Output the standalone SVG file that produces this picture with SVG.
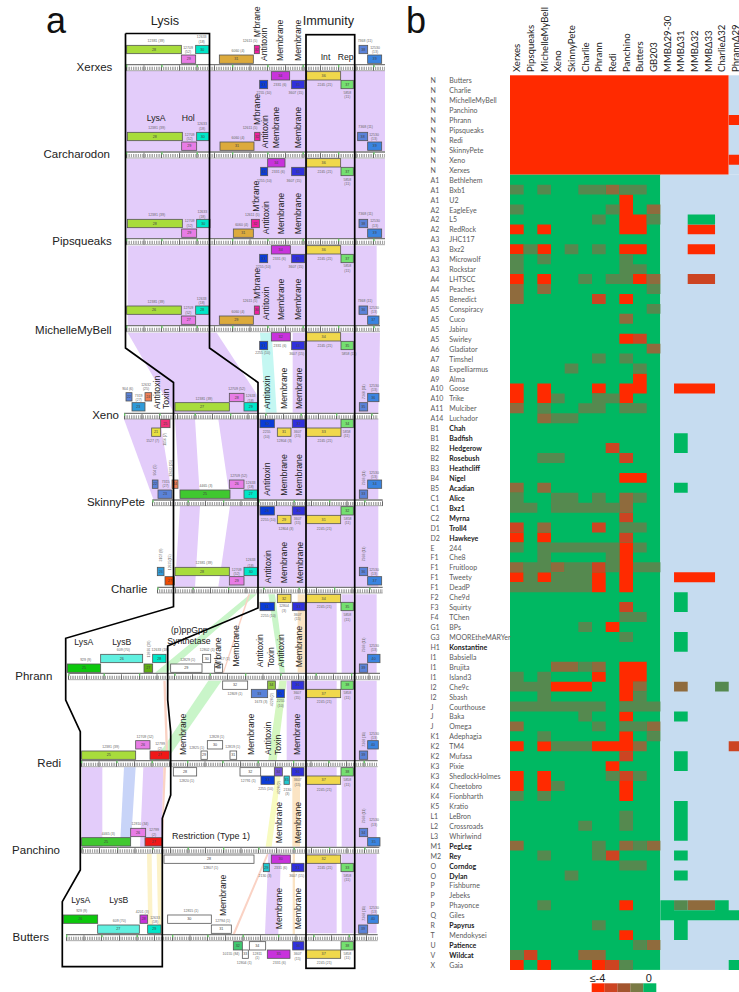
<svg xmlns="http://www.w3.org/2000/svg" width="739" height="992" viewBox="0 0 739 992">
<style>
text{font-family:"Liberation Sans",Arial,sans-serif}
.big{font-size:36px;fill:#111}
.h{font-size:38px;fill:#222}
.f{font-size:26px;fill:#222}
.g{font-size:34.5px;fill:#222;text-anchor:end}
.n{font-size:11px;fill:#444;text-anchor:middle}
.s{font-size:10.5px;fill:#666;text-anchor:middle}
.gene rect{stroke:#555;stroke-width:2.4}
.lime{fill:#a8dc3c}.pink{fill:#e87ce6}.cyan{fill:#00e6c8}.gold{fill:#dcaa3c}.hot{fill:#f01e9e}.bl1{fill:#5a82d8}.bl2{fill:#3a84e0}.pur{fill:#c832dc}.yel{fill:#f0d84c}.blu{fill:#0a3cd8}.ind{fill:#3030dc}.grn{fill:#74e070}.wht{fill:#fff}.gr2{fill:#40c830}.gr3{fill:#0cc80c}.red{fill:#f01818}.sal{fill:#f08058}.sky{fill:#2f9ad8}.aqu{fill:#60f0e0}.org{fill:#f04a00}.dgr{fill:#60b010}.olv{fill:#90c840}.vio{fill:#7050d8}.tea{fill:#20c8d0}.sea{fill:#40c870}.rsd{fill:#f0307a}.lem{fill:#e8e040}
.lav{fill:#e3ccfa}.aq{fill:#c4f7f2}.lg{fill:#c9f5c9}.lg2{fill:#d4f6c0}.pe{fill:#fbe4c4}.tp{fill:#fad2c4}.lb{fill:#c8d4f8}.ly{fill:#f8fbc0}.ly2{fill:#fcf2c8}
.r0,.r1,.r2,.r3,.r4{fill:none}
.r0{stroke:#777;stroke-width:4}
.r1{stroke:#555;stroke-width:10;stroke-dasharray:1.6 3.7}
.r2{stroke:#444;stroke-width:16;stroke-dasharray:2 51}
.r3{stroke:#66cc66;stroke-width:7;stroke-dasharray:4 102}
.r4{stroke:#555;stroke-width:1.5}
.frame{fill:none;stroke:#000;stroke-width:1.7}
.hd{font-family:Lato,"Noto Sans",sans-serif;font-size:9.6px;fill:#222}
.c{font-family:Lato,"Noto Sans",sans-serif;font-size:7px;fill:#5a5a5a}
.b{font-weight:700;fill:#222}
.R{fill:#ff2a00}.Q{fill:#cc4422}.B{fill:#8f6b3d}.G{fill:#55894f}.E{fill:#00b862}.L{fill:#c6dcf0}
</style>
<defs>
<g id="immA"><polygon class="lav" points="920,0 1010,0 1010,238 920,238"/><polygon class="lav" points="1025,0 1060,0 1060,238 1025,238"/><polygon class="lav" points="1065,0 1130,0 1130,238 1065,238"/></g>
</defs>
<g id="connectors" transform="scale(0.33333)">
<polygon class="lav" points="378,213 1155,213 1155,454 378,454"/>
<polygon class="lav" points="380,476 1155,476 1155,714 380,714"/>
<polygon class="lav" points="383,737 1130,737 1130,975 383,975"/>
<g transform="translate(0,990)">
<polygon class="lav" points="383,8 650,8 775,200 775,248 522,248"/>
<polygon class="aq" points="780,8 815,8 830,248 797,248"/>
<polygon class="lav" points="878,8 915,8 915,248 878,248"/>
<polygon class="lav" points="920,8 1140,8 1135,248 920,248"/>
<polygon class="lav" points="372,268 480,268 518,508 460,508"/>
<polygon class="lav" points="525,268 585,268 600,508 540,508"/>
<polygon class="lav" points="655,268 1135,268 1135,508 690,508"/>
<polygon class="lav" points="540,528 600,528 585,770 525,770"/>
<polygon class="lav" points="690,528 1135,528 1135,770 655,770"/>
<polygon class="lg" points="750,793 770,793 500,1028 465,1028"/>
<polygon class="tp" points="745,793 750,793 672,1028 668,1028"/>
<polygon class="lg" points="805,793 825,793 855,1028 840,1028"/>
<polygon class="pe" points="893,793 915,793 915,1028 893,1028"/>
<use href="#immA" y="793"/>
</g>
<g transform="translate(0,1950)">
<polygon class="lg" points="625,92 665,92 500,330 465,330"/>
<polygon class="tp" points="490,92 497,92 505,330 498,330"/>
<polygon class="lg2" points="838,92 860,92 830,330 805,330"/>
<polygon class="lav" points="860,92 915,92 915,330 860,330"/>
<use href="#immA" y="92"/>
<polygon class="lav" points="245,352 307,352 307,590 245,590"/>
<polygon class="lb" points="372,352 407,352 392,590 360,590"/>
<polygon class="lav" points="430,352 490,352 485,590 420,590"/>
<polygon class="tp" points="490,352 498,352 488,590 485,590"/>
<polygon class="ly" points="830,352 845,352 815,590 797,590"/>
<polygon class="pe" points="877,352 900,352 900,590 877,590"/>
<use href="#immA" y="352"/>
<polygon class="ly2" points="441,612 455,612 458,852 445,852"/>
<polygon class="ly2" points="470,612 485,612 485,852 475,852"/>
<polygon class="tp" points="800,612 806,612 705,852 698,852"/>
<polygon class="pe" points="878,612 885,612 885,852 878,852"/>
<polygon class="lav" points="805,612 843,612 835,852 795,852"/>
<use href="#immA" y="612"/>
</g>
</g>
<g id="panel-a" transform="scale(0.33333)">
<g id="xerxes" class="gene">
<path class="r0" d="M378 194H1155"/><path class="r1" d="M378 205H1155"/><path class="r2" d="M378 204H1155"/><path class="r3" d="M378 198H1155"/><path class="r4" d="M378 212H1155"/>
<text class="g" x="337" y="213">Xerxes</text>
<rect class="lime" x="380" y="136" width="164" height="25"/><text class="n" x="462" y="152">28</text><text class="s" x="468" y="126">12381 (39)</text>
<rect class="pink" x="544" y="165" width="43" height="25"/><text class="n" x="566" y="181">29</text><text class="s" x="564" y="146">12709</text><text class="s" x="564" y="159">(52)</text>
<rect class="cyan" x="587" y="136" width="40" height="25"/><text class="n" x="607" y="152">30</text><text class="s" x="605" y="115">12633</text><text class="s" x="605" y="129">(18)</text>
<rect class="gold" x="658" y="165" width="102" height="25"/><text class="n" x="709" y="181">31</text><text class="s" x="714" y="155">6060 (4)</text>
<rect class="hot" x="763" y="136" width="15" height="25"/><text class="n" x="770" y="152">32</text><text class="s" x="750" y="126">12611 (5)</text>
<rect class="bl1" x="1077" y="136" width="26" height="25"/><text class="n" x="1090" y="152">38</text><text class="s" x="1095" y="126">7368 (11)</text>
<rect class="bl2" x="1103" y="165" width="42" height="25"/><text class="n" x="1124" y="181">39</text><text class="s" x="1125" y="146">12530</text><text class="s" x="1125" y="160">(13)</text>
<rect class="pur" x="814" y="215" width="55" height="25"/><text class="n" x="841" y="231">34</text>
<rect class="yel" x="920" y="215" width="102" height="25"/><text class="n" x="971" y="231">36</text>
<rect class="blu" x="779" y="241" width="24" height="25"/><text class="n" x="791" y="257">33</text><text class="s" x="792" y="281">2255 (10)</text>
<rect class="ind" x="875" y="241" width="39" height="25"/><text class="n" x="894" y="257">35</text><text class="s" x="888" y="282">3607 (15)</text>
<rect class="grn" x="1023" y="241" width="37" height="25"/><text class="n" x="1042" y="257">37</text><text class="s" x="1042" y="281">5858</text><text class="s" x="1042" y="295">(11)</text>
<text class="s" x="840" y="258">2331 (6)</text><text class="s" x="975" y="258">2245 (21)</text>
<text class="f" transform="translate(779,112) rotate(-90)">M'brane</text><text class="f" transform="translate(802,183) rotate(-90)">Antitoxin</text><text class="f" transform="translate(849,183) rotate(-90)">Membrane</text><text class="f" transform="translate(902,183) rotate(-90)">Membrane</text>
<text class="f" x="962" y="180">Int</text><text class="f" x="1013" y="180">Rep</text>
</g>
<g id="carcharodon" class="gene">
<path class="r0" d="M378 456H1155"/><path class="r1" d="M378 467H1155"/><path class="r2" d="M378 466H1155"/><path class="r3" d="M378 460H1155"/><path class="r4" d="M378 474H1155"/>
<text class="g" x="330" y="475">Carcharodon</text>
<rect class="lime" x="382" y="397" width="165" height="25"/><text class="n" x="464" y="413">28</text><text class="s" x="470" y="388">12381 (39)</text>
<rect class="pink" x="545" y="426" width="45" height="25"/><text class="n" x="568" y="442">29</text><text class="s" x="569" y="407">12709</text><text class="s" x="569" y="420">(52)</text>
<rect class="cyan" x="590" y="397" width="37" height="25"/><text class="n" x="608" y="413">30</text><text class="s" x="606" y="376">12633</text><text class="s" x="606" y="391">(18)</text>
<rect class="gold" x="660" y="426" width="102" height="25"/><text class="n" x="711" y="442">31</text><text class="s" x="714" y="416">6060 (4)</text>
<rect class="hot" x="764" y="397" width="16" height="25"/><text class="n" x="772" y="413">32</text><text class="s" x="750" y="388">12611 (5)</text>
<rect class="bl1" x="1073" y="397" width="30" height="25"/><text class="n" x="1088" y="413">38</text><text class="s" x="1097" y="384">7368 (11)</text>
<rect class="bl2" x="1103" y="426" width="42" height="25"/><text class="n" x="1124" y="442">39</text><text class="s" x="1122" y="407">12530</text><text class="s" x="1122" y="420">(13)</text>
<rect class="pur" x="803" y="476" width="52" height="25"/><text class="n" x="829" y="492">34</text>
<rect class="yel" x="920" y="476" width="102" height="25"/><text class="n" x="971" y="492">36</text>
<rect class="blu" x="782" y="502" width="21" height="25"/><text class="n" x="792" y="518">33</text><text class="s" x="793" y="545">2255 (10)</text>
<rect class="ind" x="875" y="502" width="39" height="25"/><text class="n" x="894" y="518">35</text><text class="s" x="882" y="545">3607 (15)</text>
<rect class="grn" x="1023" y="502" width="37" height="25"/><text class="n" x="1042" y="518">37</text><text class="s" x="1042" y="542">5858</text><text class="s" x="1042" y="555">(11)</text>
<text class="s" x="835" y="519">2331 (6)</text><text class="s" x="975" y="519">2245 (21)</text>
<text class="f" x="440" y="363">LysA</text><text class="f" x="545" y="363">Hol</text>
<text class="f" transform="translate(781,375) rotate(-90)">M'brane</text><text class="f" transform="translate(804,445) rotate(-90)">Antitoxin</text><text class="f" transform="translate(836,445) rotate(-90)">Membrane</text><text class="f" transform="translate(902,445) rotate(-90)">Membrane</text>
</g>
<g id="pipsqueaks" class="gene">
<path class="r0" d="M378 716H1155"/><path class="r1" d="M378 727H1155"/><path class="r2" d="M378 726H1155"/><path class="r3" d="M378 720H1155"/><path class="r4" d="M378 734H1155"/>
<text class="g" x="335" y="736">Pipsqueaks</text>
<rect class="lime" x="382" y="658" width="165" height="25"/><text class="n" x="464" y="674">28</text><text class="s" x="470" y="648">12381 (39)</text>
<rect class="pink" x="545" y="687" width="45" height="25"/><text class="n" x="568" y="703">29</text><text class="s" x="569" y="667">12709</text><text class="s" x="569" y="680">(52)</text>
<rect class="cyan" x="590" y="658" width="40" height="25"/><text class="n" x="610" y="674">30</text><text class="s" x="607" y="640">12633</text><text class="s" x="607" y="654">(18)</text>
<rect class="gold" x="700" y="687" width="60" height="25"/><text class="n" x="730" y="703">31</text><text class="s" x="725" y="677">6060 (4)</text>
<rect class="hot" x="754" y="658" width="24" height="25"/><text class="n" x="766" y="674">32</text><text class="s" x="757" y="649">12611 (5)</text>
<rect class="bl1" x="1077" y="658" width="26" height="25"/><text class="n" x="1090" y="674">38</text><text class="s" x="1097" y="644">7368 (11)</text>
<rect class="bl2" x="1103" y="687" width="42" height="25"/><text class="n" x="1124" y="703">39</text><text class="s" x="1125" y="667">12530</text><text class="s" x="1125" y="681">(13)</text>
<rect class="pur" x="814" y="737" width="57" height="25"/><text class="n" x="842" y="753">34</text>
<rect class="yel" x="920" y="737" width="102" height="25"/><text class="n" x="971" y="753">36</text>
<rect class="blu" x="779" y="763" width="24" height="25"/><text class="n" x="791" y="779">33</text><text class="s" x="790" y="804">2255 (10)</text>
<rect class="ind" x="875" y="763" width="39" height="25"/><text class="n" x="894" y="779">35</text><text class="s" x="888" y="804">3607 (15)</text>
<rect class="grn" x="1023" y="763" width="37" height="25"/><text class="n" x="1042" y="779">37</text><text class="s" x="1042" y="802">5858</text><text class="s" x="1042" y="815">(11)</text>
<text class="s" x="838" y="779">2331 (6)</text><text class="s" x="975" y="779">2245 (21)</text>
<text class="f" transform="translate(777,635) rotate(-90)">M'brane</text><text class="f" transform="translate(806,703) rotate(-90)">Antitoxin</text><text class="f" transform="translate(852,703) rotate(-90)">Membrane</text><text class="f" transform="translate(902,703) rotate(-90)">Membrane</text>
</g>
<g id="michellemybell" class="gene">
<path class="r0" d="M378 977H1140"/><path class="r1" d="M378 988H1140"/><path class="r2" d="M378 987H1140"/><path class="r3" d="M378 981H1140"/><path class="r4" d="M378 995H1140"/>
<text class="g" x="335" y="1001">MichelleMyBell</text>
<rect class="lime" x="380" y="918" width="164" height="25"/><text class="n" x="462" y="934">26</text><text class="s" x="468" y="909">12381 (39)</text>
<rect class="pink" x="544" y="948" width="43" height="25"/><text class="n" x="566" y="964">27</text><text class="s" x="565" y="928">12709</text><text class="s" x="565" y="942">(52)</text>
<rect class="cyan" x="587" y="918" width="40" height="25"/><text class="n" x="607" y="934">28</text><text class="s" x="605" y="899">12633</text><text class="s" x="605" y="913">(18)</text>
<rect class="gold" x="658" y="948" width="102" height="25"/><text class="n" x="709" y="964">29</text><text class="s" x="714" y="938">6060 (4)</text>
<rect class="hot" x="763" y="918" width="15" height="25"/><text class="n" x="770" y="934">30</text><text class="s" x="750" y="907">12611 (5)</text>
<rect class="bl1" x="1077" y="918" width="26" height="25"/><text class="n" x="1090" y="934">36</text><text class="s" x="1095" y="907">7368 (11)</text>
<rect class="bl2" x="1103" y="948" width="34" height="25"/><text class="n" x="1120" y="964">37</text><text class="s" x="1122" y="926">12530</text><text class="s" x="1122" y="940">(13)</text>
<rect class="pur" x="814" y="998" width="57" height="25"/><text class="n" x="842" y="1014">32</text>
<rect class="yel" x="920" y="998" width="102" height="25"/><text class="n" x="971" y="1014">34</text>
<rect class="blu" x="779" y="1024" width="24" height="25"/><text class="n" x="791" y="1040">31</text><text class="s" x="788" y="1063">2255 (10)</text>
<rect class="ind" x="875" y="1024" width="39" height="25"/><text class="n" x="894" y="1040">33</text><text class="s" x="890" y="1066">3607 (15)</text>
<rect class="grn" x="1023" y="1024" width="37" height="25"/><text class="n" x="1042" y="1040">35</text><text class="s" x="1047" y="1066">5858 (11)</text>
<text class="s" x="840" y="1040">2331 (6)</text><text class="s" x="975" y="1040">2245 (21)</text>
<text class="f" transform="translate(779,897) rotate(-90)">M'brane</text><text class="f" transform="translate(807,960) rotate(-90)">Antitoxin</text><text class="f" transform="translate(851,960) rotate(-90)">Membrane</text><text class="f" transform="translate(902,960) rotate(-90)">Membrane</text>
</g>
<g transform="translate(0,990)">
<g id="xeno" class="gene">
<path class="r0" d="M372 250H1135"/><path class="r1" d="M372 261H1135"/><path class="r2" d="M372 260H1135"/><path class="r3" d="M372 254H1135"/><path class="r4" d="M372 267H1135"/>
<text class="g" x="357" y="268">Xeno</text>
<rect class="bl1" x="378" y="188" width="18" height="25"/><text class="n" x="387" y="204">22</text><text class="s" x="383" y="181">904 (6)</text>
<rect class="sky" x="396" y="218" width="39" height="25"/><text class="n" x="415" y="234">23</text><text class="s" x="416" y="201">7319</text><text class="s" x="416" y="213">(27)</text>
<rect class="sal" x="435" y="188" width="20" height="25"/><text class="n" x="445" y="204">24</text><text class="s" x="438" y="168">12632</text><text class="s" x="438" y="181">(25)</text>
<rect class="lime" x="525" y="218" width="163" height="25"/><text class="n" x="606" y="234">27</text><text class="s" x="612" y="209">12381 (39)</text>
<rect class="pink" x="688" y="190" width="44" height="25"/><text class="n" x="710" y="206">28</text><text class="s" x="710" y="181">12709 (52)</text>
<rect class="cyan" x="732" y="218" width="40" height="25"/><text class="n" x="752" y="234">29</text><text class="s" x="752" y="202">12633</text><text class="s" x="752" y="216">(18)</text>
<rect class="bl1" x="1078" y="218" width="25" height="25"/><text class="n" x="1090" y="234">35</text><text class="s" transform="translate(1094,185) rotate(-90)">7368 (11)</text>
<rect class="bl2" x="1103" y="190" width="34" height="25"/><text class="n" x="1120" y="206">36</text><text class="s" x="1122" y="170">12530</text><text class="s" x="1122" y="183">(13)</text>
<rect class="rsd" x="482" y="268" width="28" height="25"/><text class="n" x="496" y="284">25</text>
<rect class="lem" x="455" y="294" width="27" height="25"/><text class="n" x="468" y="310">21</text><text class="s" x="458" y="336">1527 (7)</text><text class="s" transform="translate(499,328) rotate(-90)">1156 (7)</text>
<rect class="blu" x="780" y="268" width="43" height="25"/><text class="n" x="801" y="284">30</text><text class="s" x="800" y="309">2255</text><text class="s" x="800" y="323">(10)</text>
<rect class="ind" x="877" y="268" width="38" height="25"/><text class="n" x="896" y="284">32</text><text class="s" x="893" y="309">3607</text><text class="s" x="893" y="322">(15)</text>
<rect class="grn" x="1023" y="268" width="37" height="25"/><text class="n" x="1042" y="284">34</text><text class="s" x="1040" y="309">5858</text><text class="s" x="1040" y="322">(11)</text>
<rect class="yel" x="832" y="294" width="41" height="25"/><text class="n" x="852" y="310">31</text><text class="s" x="853" y="336">12804 (3)</text>
<rect class="yel" x="920" y="294" width="103" height="25"/><text class="n" x="971" y="310">33</text><text class="s" x="975" y="335">2245 (21)</text>
<text class="f" transform="translate(479,237) rotate(-90)">Antitoxin</text><text class="f" transform="translate(506,237) rotate(-90)">Toxin</text><text class="f" transform="translate(811,237) rotate(-90)">Antitoxin</text><text class="f" transform="translate(861,237) rotate(-90)">Membrane</text><text class="f" transform="translate(906,237) rotate(-90)">Membrane</text>
</g>
<g id="skinnypete" class="gene">
<path class="r0" d="M457 510H1148"/><path class="r1" d="M457 521H1148"/><path class="r2" d="M457 520H1148"/><path class="r3" d="M457 514H1148"/><path class="r4" d="M457 527H1148"/>
<text class="g" x="435" y="529">SkinnyPete</text>
<rect class="bl1" x="457" y="450" width="17" height="25"/><text class="n" x="465" y="466">22</text><text class="s" transform="translate(469,420) rotate(-90)">904 (5)</text>
<rect class="bl1" x="474" y="480" width="42" height="25"/><text class="n" x="495" y="496">23</text><text class="s" x="497" y="458">7315</text><text class="s" x="497" y="471">(27)</text>
<rect class="sal" x="516" y="450" width="18" height="25"/><text class="n" x="525" y="466">24</text><text class="s" transform="translate(517,415) rotate(-90)">12632 (25)</text>
<rect class="gr2" x="540" y="480" width="150" height="25"/><text class="n" x="615" y="496">25</text><text class="s" x="618" y="471">4465 (3)</text>
<rect class="pink" x="688" y="450" width="44" height="25"/><text class="n" x="710" y="466">26</text><text class="s" x="716" y="441">12709 (52)</text>
<rect class="cyan" x="732" y="480" width="40" height="25"/><text class="n" x="752" y="496">27</text><text class="s" x="752" y="462">12633</text><text class="s" x="752" y="475">(18)</text>
<rect class="bl1" x="1078" y="480" width="25" height="25"/><text class="n" x="1090" y="496">33</text><text class="s" transform="translate(1094,444) rotate(-90)">7368 (11)</text>
<rect class="bl2" x="1103" y="450" width="42" height="25"/><text class="n" x="1124" y="466">34</text><text class="s" x="1122" y="432">12530</text><text class="s" x="1122" y="445">(13)</text>
<rect class="blu" x="780" y="530" width="43" height="25"/><text class="n" x="801" y="546">28</text><text class="s" x="805" y="572">2255 (10)</text>
<rect class="ind" x="877" y="530" width="38" height="25"/><text class="n" x="896" y="546">30</text><text class="s" x="893" y="570">3607</text><text class="s" x="893" y="583">(15)</text>
<rect class="grn" x="1023" y="530" width="37" height="25"/><text class="n" x="1042" y="546">32</text><text class="s" x="1043" y="570">5858</text><text class="s" x="1043" y="581">(11)</text>
<rect class="yel" x="832" y="556" width="41" height="25"/><text class="n" x="852" y="572">29</text><text class="s" x="858" y="599">12804 (3)</text>
<rect class="yel" x="920" y="556" width="102" height="25"/><text class="n" x="971" y="572">31</text><text class="s" x="973" y="599">2245 (21)</text>
<text class="f" transform="translate(809,497) rotate(-90)">Antitoxin</text><text class="f" transform="translate(862,497) rotate(-90)">Membrane</text><text class="f" transform="translate(907,497) rotate(-90)">Membrane</text>
</g>
<g id="charlie" class="gene">
<path class="r0" d="M472 772H1148"/><path class="r1" d="M472 783H1148"/><path class="r2" d="M472 782H1148"/><path class="r3" d="M472 776H1148"/><path class="r4" d="M472 789H1148"/>
<text class="g" x="442" y="790">Charlie</text>
<rect class="sky" x="472" y="712" width="20" height="25"/><text class="n" x="482" y="728">26</text><text class="s" transform="translate(486,675) rotate(-90)">3107 (8)</text>
<rect class="org" x="495" y="740" width="28" height="25"/><text class="n" x="509" y="756">27</text><text class="s" transform="translate(514,697) rotate(-90)">12635(15)</text>
<rect class="lime" x="525" y="712" width="163" height="25"/><text class="n" x="606" y="728">28</text><text class="s" x="612" y="702">12381 (39)</text>
<rect class="pink" x="688" y="740" width="44" height="25"/><text class="n" x="710" y="756">29</text><text class="s" x="710" y="722">12709</text><text class="s" x="710" y="736">(52)</text>
<rect class="cyan" x="732" y="712" width="40" height="25"/><text class="n" x="752" y="728">30</text><text class="s" x="752" y="694">12633</text><text class="s" x="752" y="710">(18)</text>
<rect class="bl1" x="1078" y="712" width="25" height="25"/><text class="n" x="1090" y="728">36</text><text class="s" transform="translate(1096,672) rotate(-90)">7368 (11)</text>
<rect class="bl2" x="1103" y="740" width="42" height="25"/><text class="n" x="1124" y="756">37</text><text class="s" x="1122" y="723">12530</text><text class="s" x="1122" y="736">(13)</text>
<rect class="yel" x="832" y="793" width="41" height="25"/><text class="n" x="852" y="809">32</text>
<rect class="yel" x="920" y="793" width="102" height="25"/><text class="n" x="971" y="809">34</text><text class="s" x="973" y="833">2245 (21)</text>
<rect class="blu" x="780" y="817" width="43" height="25"/><text class="n" x="801" y="833">31</text><text class="s" x="805" y="860">2255 (10)</text>
<rect class="ind" x="877" y="817" width="38" height="25"/><text class="n" x="896" y="833">33</text><text class="s" x="893" y="857">3607</text><text class="s" x="893" y="871">(15)</text>
<rect class="grn" x="1023" y="817" width="37" height="25"/><text class="n" x="1042" y="833">35</text><text class="s" x="1042" y="859">5858</text><text class="s" x="1042" y="872">(11)</text>
<text class="s" x="852" y="832">12804</text><text class="s" x="852" y="846">(3)</text>
<text class="f" transform="translate(814,760) rotate(-90)">Antitoxin</text><text class="f" transform="translate(862,760) rotate(-90)">Membrane</text><text class="f" transform="translate(909,760) rotate(-90)">Membrane</text>
</g>
</g>
<g transform="translate(0,1950)">
<g id="phrann" class="gene">
<path class="r0" d="M205 70H1140"/><path class="r1" d="M205 82H1140"/><path class="r2" d="M205 81H1140"/><path class="r3" d="M205 74H1140"/><path class="r4" d="M205 89H1140"/>
<text class="g" x="157" y="90">Phrann</text>
<rect class="gr3" x="202" y="42" width="100" height="25"/><text class="n" x="252" y="58">25</text><text class="s" x="257" y="33">929 (9)</text>
<rect class="aqu" x="302" y="13" width="126" height="25"/><text class="n" x="365" y="29">26</text><text class="s" x="370" y="2">609 (70)</text>
<rect class="dgr" x="432" y="42" width="26" height="25"/><text class="n" x="445" y="58">27</text><text class="s" transform="translate(449,-3) rotate(-90)">12876 (20)</text>
<rect class="cyan" x="458" y="13" width="40" height="25"/><text class="n" x="478" y="29">28</text><text class="s" x="480" y="2">12633 (18)</text>
<rect class="wht" x="512" y="42" width="94" height="25"/><text class="n" x="559" y="58">29</text><text class="s" x="563" y="32">12829 (1)</text>
<rect class="wht" x="608" y="13" width="24" height="25"/><text class="n" x="620" y="29">30</text><text class="s" x="622" y="2">12802 (1)</text>
<rect class="wht" x="644" y="42" width="24" height="25"/><text class="n" x="656" y="58">31</text><text class="s" x="670" y="31">5817 (1)</text>
<rect class="bl1" x="1078" y="42" width="25" height="25"/><text class="n" x="1090" y="58">39</text><text class="s" transform="translate(1096,-15) rotate(-90)">7368 (11)</text>
<rect class="bl2" x="1103" y="13" width="37" height="25"/><text class="n" x="1121" y="29">40</text><text class="s" x="1122" y="-9">12530</text><text class="s" x="1122" y="4">(13)</text>
<rect class="wht" x="668" y="93" width="75" height="25"/><text class="n" x="705" y="109">32</text><text class="s" x="705" y="134">12809 (1)</text>
<rect class="olv" x="803" y="93" width="23" height="25"/><text class="n" x="814" y="109">34</text><text class="s" transform="translate(819,149) rotate(-90)">4228 (2)</text>
<rect class="ind" x="875" y="93" width="37" height="25"/><text class="n" x="893" y="109">36</text><text class="s" x="892" y="132">3607</text><text class="s" x="892" y="146">(15)</text>
<rect class="grn" x="1023" y="93" width="37" height="25"/><text class="n" x="1042" y="109">38</text><text class="s" x="1042" y="132">5858</text><text class="s" x="1042" y="146">(11)</text>
<rect class="bl1" x="754" y="118" width="49" height="25"/><text class="n" x="778" y="134">33</text><text class="s" x="783" y="160">1673 (3)</text>
<rect class="blu" x="830" y="118" width="23" height="25"/><text class="n" x="841" y="134">35</text><text class="s" x="842" y="157">2255</text><text class="s" x="842" y="171">(10)</text>
<rect class="yel" x="920" y="118" width="102" height="25"/><text class="n" x="971" y="134">37</text><text class="s" x="973" y="160">2245 (21)</text>
<text class="f" x="223" y="-16">LysA</text><text class="f" x="337" y="-16">LysB</text>
<text class="f" x="513" y="-50">(p)ppGpp</text><text class="f" x="502" y="-19">Synthetase</text>
<text class="f" transform="translate(664,55) rotate(-90)">M'brane</text><text class="f" transform="translate(716,50) rotate(-90)">Membrane</text><text class="f" transform="translate(789,52) rotate(-90)">Antitoxin</text><text class="f" transform="translate(822,52) rotate(-90)">Toxin</text><text class="f" transform="translate(851,52) rotate(-90)">Antitoxin</text><text class="f" transform="translate(907,52) rotate(-90)">Membrane</text>
</g>
<g id="redi" class="gene">
<path class="r0" d="M243 332H1133"/><path class="r1" d="M243 343H1133"/><path class="r2" d="M243 342H1133"/><path class="r3" d="M243 336H1133"/><path class="r4" d="M243 350H1133"/>
<text class="g" x="183" y="350">Redi</text>
<rect class="lime" x="245" y="303" width="162" height="25"/><text class="n" x="326" y="319">25</text><text class="s" x="332" y="294">12381 (39)</text>
<rect class="pink" x="407" y="272" width="43" height="25"/><text class="n" x="429" y="288">26</text><text class="s" x="435" y="264">12709 (52)</text>
<rect class="red" x="450" y="303" width="58" height="25"/><text class="n" x="479" y="319">27</text><text class="s" x="480" y="286">12799</text><text class="s" x="480" y="299">(2)</text>
<rect class="wht" x="603" y="303" width="19" height="25"/><text class="n" x="612" y="319">29</text><text class="s" x="590" y="296">12825 (1)</text>
<rect class="wht" x="622" y="272" width="46" height="25"/><text class="n" x="645" y="288">30</text><text class="s" x="650" y="264">12828 (1)</text>
<rect class="wht" x="690" y="303" width="20" height="25"/><text class="n" x="700" y="319">31</text><text class="s" x="698" y="295">12819 (1)</text>
<rect class="bl1" x="1078" y="303" width="25" height="25"/><text class="n" x="1090" y="319">39</text><text class="s" transform="translate(1094,268) rotate(-90)">7368 (11)</text>
<rect class="bl2" x="1103" y="272" width="32" height="25"/><text class="n" x="1119" y="288">40</text><text class="s" x="1122" y="254">12530</text><text class="s" x="1122" y="267">(13)</text>
<rect class="wht" x="520" y="353" width="70" height="25"/><text class="n" x="555" y="369">28</text><text class="s" x="560" y="396">12820 (1)</text>
<rect class="wht" x="720" y="353" width="62" height="25"/><text class="n" x="751" y="369">32</text><text class="s" x="745" y="396">12791 (1)</text>
<rect class="vio" x="823" y="353" width="24" height="25"/><text class="n" x="835" y="369">34</text><text class="s" transform="translate(841,413) rotate(-90)">4228 (2)</text>
<rect class="ind" x="875" y="353" width="37" height="25"/><text class="n" x="893" y="369">36</text><text class="s" x="893" y="394">3607</text><text class="s" x="893" y="407">(15)</text>
<rect class="grn" x="1023" y="353" width="37" height="25"/><text class="n" x="1042" y="369">38</text><text class="s" x="1042" y="394">5858</text><text class="s" x="1042" y="407">(11)</text>
<rect class="blu" x="783" y="378" width="40" height="25"/><text class="n" x="803" y="394">33</text><text class="s" x="797" y="419">2255 (10)</text>
<rect class="tea" x="852" y="378" width="16" height="25"/><text class="n" x="860" y="394">35</text><text class="s" x="862" y="422">2130</text><text class="s" x="862" y="436">(3)</text>
<rect class="yel" x="920" y="378" width="102" height="25"/><text class="n" x="971" y="394">37</text><text class="s" x="973" y="422">2245 (21)</text>
<text class="f" transform="translate(557,315) rotate(-90)">Membrane</text><text class="f" transform="translate(761,315) rotate(-90)">Membrane</text><text class="f" transform="translate(812,315) rotate(-90)">Antitoxin</text><text class="f" transform="translate(843,315) rotate(-90)">Toxin</text><text class="f" transform="translate(901,315) rotate(-90)">Membrane</text>
</g>
<g id="panchino" class="gene">
<path class="r0" d="M245 592H1138"/><path class="r1" d="M245 603H1138"/><path class="r2" d="M245 602H1138"/><path class="r3" d="M245 596H1138"/><path class="r4" d="M245 610H1138"/>
<text class="g" x="180" y="612">Panchino</text>
<rect class="gr2" x="245" y="563" width="147" height="25"/><text class="n" x="318" y="579">25</text><text class="s" x="325" y="554">4465 (3)</text>
<rect class="pink" x="392" y="535" width="45" height="25"/><text class="n" x="414" y="551">26</text><text class="s" x="420" y="525">12810 (34)</text>
<rect class="red" x="435" y="563" width="52" height="25"/><text class="n" x="461" y="579">27</text><text class="s" x="462" y="544">12799</text><text class="s" x="462" y="557">(2)</text>
<rect class="bl1" x="1078" y="535" width="25" height="25"/><text class="n" x="1090" y="551">34</text><text class="s" transform="translate(1094,498) rotate(-90)">7368 (11)</text>
<rect class="bl2" x="1103" y="563" width="37" height="25"/><text class="n" x="1121" y="579">35</text><text class="s" x="1122" y="514">12530</text><text class="s" x="1122" y="528">(13)</text>
<rect class="wht" x="492" y="615" width="270" height="25"/><text class="n" x="627" y="631">28</text><text class="s" x="632" y="657">12807 (1)</text>
<rect class="pur" x="814" y="615" width="57" height="25"/><text class="n" x="842" y="631">30</text><text class="s" x="842" y="657">2331 (6)</text>
<rect class="yel" x="920" y="615" width="102" height="25"/><text class="n" x="971" y="631">32</text><text class="s" x="975" y="657">2245 (21)</text>
<rect class="tea" x="790" y="640" width="18" height="25"/><text class="n" x="799" y="656">29</text><text class="s" x="795" y="682">2130 (3)</text>
<rect class="ind" x="875" y="640" width="37" height="25"/><text class="n" x="893" y="656">31</text><text class="s" x="890" y="682">3607 (15)</text>
<rect class="grn" x="1023" y="640" width="37" height="25"/><text class="n" x="1042" y="656">33</text><text class="s" x="1042" y="680">5858</text><text class="s" x="1042" y="693">(11)</text>
<text class="f" x="516" y="568" style="font-size:27px">Restriction (Type 1)</text>
<text class="f" transform="translate(847,580) rotate(-90)">Membrane</text><text class="f" transform="translate(904,580) rotate(-90)">Membrane</text>
</g>
<g id="butters" class="gene">
<path class="r0" d="M198 854H1133"/><path class="r1" d="M198 865H1133"/><path class="r2" d="M198 864H1133"/><path class="r3" d="M198 858H1133"/><path class="r4" d="M198 872H1133"/>
<text class="g" x="147" y="873">Butters</text>
<rect class="gr3" x="190" y="795" width="103" height="25"/><text class="n" x="241" y="811">26</text><text class="s" x="245" y="787">929 (9)</text>
<rect class="aqu" x="293" y="825" width="125" height="25"/><text class="n" x="355" y="841">27</text><text class="s" x="358" y="816">609 (70)</text>
<rect class="pur" x="420" y="795" width="23" height="25"/><text class="n" x="431" y="811">28</text><text class="s" x="427" y="788">4201 (3)</text>
<rect class="cyan" x="443" y="825" width="40" height="25"/><text class="n" x="463" y="841">29</text><text class="s" x="465" y="807">12633</text><text class="s" x="465" y="820">(18)</text>
<rect class="wht" x="503" y="795" width="131" height="25"/><text class="n" x="568" y="811">30</text><text class="s" x="573" y="787">12815 (1)</text>
<rect class="wht" x="634" y="825" width="60" height="25"/><text class="n" x="664" y="841">31</text><text class="s" x="668" y="816">12794 (1)</text>
<rect class="bl1" x="1076" y="825" width="27" height="25"/><text class="n" x="1089" y="841">39</text><text class="s" transform="translate(1094,790) rotate(-90)">7368 (11)</text>
<rect class="bl2" x="1103" y="795" width="32" height="25"/><text class="n" x="1119" y="811">40</text><text class="s" x="1122" y="777">12530</text><text class="s" x="1122" y="790">(13)</text>
<rect class="sea" x="700" y="875" width="27" height="25"/><text class="n" x="713" y="891">32</text><text class="s" x="693" y="916">10155 (84)</text>
<rect class="wht" x="748" y="875" width="49" height="25"/><text class="n" x="772" y="891">34</text><text class="s" x="772" y="914">12811</text><text class="s" x="772" y="928">(1)</text>
<rect class="ind" x="878" y="875" width="34" height="25"/><text class="n" x="895" y="891">36</text><text class="s" x="893" y="916">3607</text><text class="s" x="893" y="930">(15)</text>
<rect class="grn" x="1023" y="875" width="37" height="25"/><text class="n" x="1042" y="891">38</text><text class="s" x="1042" y="914">5858</text><text class="s" x="1042" y="928">(11)</text>
<rect class="wht" x="727" y="900" width="18" height="25"/><text class="n" x="736" y="916">33</text><text class="s" x="733" y="942">12804 (1)</text>
<rect class="pur" x="802" y="900" width="68" height="25"/><text class="n" x="836" y="916">35</text><text class="s" x="838" y="943">2331 (6)</text>
<rect class="yel" x="920" y="900" width="102" height="25"/><text class="n" x="971" y="916">37</text><text class="s" x="973" y="943">2245 (21)</text>
<text class="f" x="214" y="760">LysA</text><text class="f" x="328" y="760">LysB</text>
<text class="f" transform="translate(677,798) rotate(-90)">Membrane</text><text class="f" transform="translate(846,838) rotate(-90)">Membrane</text><text class="f" transform="translate(904,838) rotate(-90)">Membrane</text>
</g>
</g>
<text class="h" x="452" y="75">Lysis</text><text class="h" x="908" y="75">Immunity</text>
</g>
<g id="frames">
<polyline class="frame" points="125.5,33.5 125.5,348 173.5,382.5 173.5,606.7 65.7,638.3 65.7,700 80.3,731.7 80.3,870 62.3,901.7 62.3,966.7 162.3,966.7 162.3,818.3 170.7,795 170.7,731.7 167.7,700 167.7,646 258,608 258,382.5 209.5,348 209.5,33.5 125.5,33.5"/>
<rect class="frame" x="306" y="34.7" width="48.7" height="933.6"/>
</g>
<text class="big" x="46" y="33">a</text>
<text class="big" x="406" y="33">b</text>
<g id="heatmap">
<g transform="translate(510,75.3) scale(13.67,9.94)">
<rect class="R" x="0" y="0" width="16" height="10"/><rect class="L" x="16" y="0" width="1.2" height="10"/>
<rect class="E" x="0" y="10" width="11" height="80"/><rect class="L" x="11" y="10" width="6.2" height="80"/>
<path class="R" d="M16 4h2v1h-2zM16 8h2v1h-2zM8 12h1v1h-1zM8 13h1v1h-1zM8 14h2v1h-2zM0 15h1v1h-1zM2 15h1v1h-1zM8 15h2v1h-2zM13 15h2v1h-2zM0 17h1v1h-1zM2 17h1v1h-1zM8 17h2v1h-2zM13 17h2v1h-2zM0 20h1v1h-1zM2 20h1v1h-1zM9 20h1v1h-1zM8 22h1v1h-1zM8 26h1v1h-1zM9 30h1v1h-1zM0 31h1v1h-1zM2 31h1v1h-1zM6 31h1v1h-1zM8 31h2v1h-2zM12 31h3v1h-3zM0 32h1v1h-1zM2 32h1v1h-1zM8 32h1v1h-1zM8 40h2v1h-2zM0 46h1v1h-1zM2 46h1v1h-1zM8 47h1v1h-1zM8 48h1v1h-1zM8 49h1v1h-1zM0 50h1v1h-1zM2 50h1v1h-1zM6 50h1v1h-1zM8 50h1v1h-1zM12 50h3v1h-3zM6 51h1v1h-1zM8 51h1v1h-1zM7 55h1v1h-1zM8 59h2v1h-2zM6 60h1v1h-1zM8 60h2v1h-2zM3 61h3v1h-3zM8 61h1v1h-1zM8 62h1v1h-1zM8 64h1v1h-1zM8 66h1v1h-1zM0 67h1v1h-1zM2 67h1v1h-1zM6 67h3v1h-3zM7 69h1v1h-1zM0 70h1v1h-1zM2 70h1v1h-1zM0 71h1v1h-1zM2 71h1v1h-1zM8 71h1v1h-1zM8 72h1v1h-1zM8 83h1v1h-1zM8 86h1v1h-1zM0 89h1v1h-1zM2 89h1v1h-1zM6 89h1v1h-1z"/>
<path class="Q" d="M13 20h2v1h-2zM6 22h1v1h-1zM9 26h1v1h-1zM7 37h1v1h-1zM8 38h1v1h-1zM8 44h1v1h-1zM0 45h1v1h-1zM6 45h1v1h-1zM8 46h1v1h-1zM6 49h1v1h-1zM8 53h1v1h-1zM16 67h2v1h-2zM8 68h1v1h-1zM8 70h1v1h-1zM7 78h1v1h-1zM1 88h1v1h-1zM7 89h1v1h-1z"/>
<path class="B" d="M7 11h1v1h-1zM10 13h1v1h-1zM10 20h1v1h-1zM0 21h1v1h-1zM2 21h1v1h-1zM0 22h1v1h-1zM8 24h1v1h-1zM10 27h1v1h-1zM0 33h1v1h-1zM2 34h1v1h-1zM0 41h1v1h-1zM2 41h1v1h-1zM8 42h1v1h-1zM8 43h1v1h-1zM2 45h1v1h-1zM0 49h1v1h-1zM3 49h1v1h-1zM3 59h2v1h-2zM6 59h1v1h-1zM9 61h1v1h-1zM12 61h1v1h-1zM0 65h1v1h-1zM10 65h1v1h-1zM9 67h1v1h-1zM0 77h1v1h-1zM8 77h1v1h-1zM10 77h1v1h-1zM13 83h2v1h-2zM10 87h1v1h-1zM5 88h2v1h-2z"/>
<path class="G" d="M0 11h1v1h-1zM2 11h1v1h-1zM5 11h2v1h-2zM8 11h2v1h-2zM0 13h1v1h-1zM7 13h1v1h-1zM6 14h1v1h-1zM10 14h1v1h-1zM1 17h1v1h-1zM4 17h1v1h-1zM6 17h1v1h-1zM0 18h1v1h-1zM2 18h1v1h-1zM8 18h1v1h-1zM0 19h1v1h-1zM8 19h2v1h-2zM5 20h1v1h-1zM7 20h2v1h-2zM10 21h1v1h-1zM10 23h1v1h-1zM6 28h1v1h-1zM8 28h1v1h-1zM4 29h1v1h-1zM9 29h1v1h-1zM3 32h1v1h-1zM6 32h2v1h-2zM2 33h1v1h-1zM5 33h2v1h-2zM8 33h2v1h-2zM3 34h2v1h-2zM2 38h2v1h-2zM0 42h1v1h-1zM3 42h2v1h-2zM6 42h1v1h-1zM9 42h1v1h-1zM0 43h2v1h-2zM3 43h5v1h-5zM8 45h2v1h-2zM0 47h1v1h-1zM2 47h6v1h-6zM9 47h1v1h-1zM2 48h1v1h-1zM7 48h1v1h-1zM1 49h2v1h-2zM4 49h2v1h-2zM7 49h1v1h-1zM9 49h2v1h-2zM1 50h1v1h-1zM3 50h3v1h-3zM0 51h6v1h-6zM8 54h2v1h-2zM5 55h1v1h-1zM8 56h1v1h-1zM5 59h1v1h-1zM0 60h1v1h-1zM2 60h1v1h-1zM0 61h3v1h-3zM15 61h1v1h-1zM2 62h1v1h-1zM9 62h1v1h-1zM0 63h7v1h-7zM8 63h3v1h-3zM5 64h1v1h-1zM6 65h1v1h-1zM8 65h2v1h-2zM2 66h1v1h-1zM10 66h1v1h-1zM3 67h3v1h-3zM7 70h1v1h-1zM9 70h1v1h-1zM3 71h1v1h-1zM0 72h1v1h-1zM2 72h1v1h-1zM8 74h1v1h-1zM5 75h1v1h-1zM8 75h1v1h-1zM6 77h1v1h-1zM9 77h1v1h-1zM2 78h1v1h-1zM6 78h1v1h-1zM8 79h2v1h-2zM4 80h1v1h-1zM2 83h1v1h-1zM12 83h1v1h-1zM6 85h1v1h-1zM9 87h1v1h-1zM0 88h1v1h-1zM8 89h1v1h-1z"/>
<path class="E" d="M13 14h2v1h-2zM12 36h1v2h-1zM12 41h1v1h-1zM12 52h1v2h-1zM12 56h1v2h-1zM12 64h1v1h-1zM12 68h1v2h-1zM12 73h1v4h-1zM12 78h1v1h-1zM12 80h1v1h-1zM11 83h1v1h-1zM15 83h1v1h-1zM11 84h7v1h-7zM12 85h1v2h-1zM16 89h2v1h-2z"/>
</g>
<g id="heat-columns" transform="translate(-0.6,0)">
<text class="hd" transform="translate(520.8,72) rotate(-90)">Xerxes</text>
<text class="hd" transform="translate(534.5,72) rotate(-90)">Pipsqueaks</text>
<text class="hd" transform="translate(548.1,72) rotate(-90)">MichelleMyBell</text>
<text class="hd" transform="translate(561.8,72) rotate(-90)">Xeno</text>
<text class="hd" transform="translate(575.5,72) rotate(-90)">SkinnyPete</text>
<text class="hd" transform="translate(589.2,72) rotate(-90)">Charlie</text>
<text class="hd" transform="translate(602.8,72) rotate(-90)">Phrann</text>
<text class="hd" transform="translate(616.5,72) rotate(-90)">Redi</text>
<text class="hd" transform="translate(630.2,72) rotate(-90)">Panchino</text>
<text class="hd" transform="translate(643.8,72) rotate(-90)">Butters</text>
<text class="hd" transform="translate(657.5,72) rotate(-90)">GB203</text>
<text class="hd" transform="translate(671.2,72) rotate(-90)">MMBΔ29-30</text>
<text class="hd" transform="translate(684.8,72) rotate(-90)">MMBΔ31</text>
<text class="hd" transform="translate(698.5,72) rotate(-90)">MMBΔ32</text>
<text class="hd" transform="translate(712.2,72) rotate(-90)">MMBΔ33</text>
<text class="hd" transform="translate(725.9,72) rotate(-90)">CharlieΔ32</text>
<text class="hd" transform="translate(739.5,72) rotate(-90)">PhrannΔ29</text>
</g>
<g id="heat-rows">
<text class="c" x="430.5" y="83.3">N</text><text class="c" x="449.3" y="83.3">Butters</text>
<text class="c" x="430.5" y="93.2">N</text><text class="c" x="449.3" y="93.2">Charlie</text>
<text class="c" x="430.5" y="103.1">N</text><text class="c" x="449.3" y="103.1">MichelleMyBell</text>
<text class="c" x="430.5" y="113.1">N</text><text class="c" x="449.3" y="113.1">Panchino</text>
<text class="c" x="430.5" y="123">N</text><text class="c" x="449.3" y="123">Phrann</text>
<text class="c" x="430.5" y="133">N</text><text class="c" x="449.3" y="133">Pipsqueaks</text>
<text class="c" x="430.5" y="142.9">N</text><text class="c" x="449.3" y="142.9">Redi</text>
<text class="c" x="430.5" y="152.9">N</text><text class="c" x="449.3" y="152.9">SkinnyPete</text>
<text class="c" x="430.5" y="162.8">N</text><text class="c" x="449.3" y="162.8">Xeno</text>
<text class="c" x="430.5" y="172.7">N</text><text class="c" x="449.3" y="172.7">Xerxes</text>
<text class="c" x="430.5" y="182.7">A1</text><text class="c" x="449.3" y="182.7">Bethlehem</text>
<text class="c" x="430.5" y="192.6">A1</text><text class="c" x="449.3" y="192.6">Bxb1</text>
<text class="c" x="430.5" y="202.6">A1</text><text class="c" x="449.3" y="202.6">U2</text>
<text class="c" x="430.5" y="212.5">A2</text><text class="c" x="449.3" y="212.5">EagleEye</text>
<text class="c" x="430.5" y="222.4">A2</text><text class="c" x="449.3" y="222.4">L5</text>
<text class="c" x="430.5" y="232.4">A2</text><text class="c" x="449.3" y="232.4">RedRock</text>
<text class="c" x="430.5" y="242.3">A3</text><text class="c" x="449.3" y="242.3">JHC117</text>
<text class="c" x="430.5" y="252.3">A3</text><text class="c" x="449.3" y="252.3">Bxz2</text>
<text class="c" x="430.5" y="262.2">A3</text><text class="c" x="449.3" y="262.2">Microwolf</text>
<text class="c" x="430.5" y="272.1">A3</text><text class="c" x="449.3" y="272.1">Rockstar</text>
<text class="c" x="430.5" y="282.1">A4</text><text class="c" x="449.3" y="282.1">LHTSCC</text>
<text class="c" x="430.5" y="292">A4</text><text class="c" x="449.3" y="292">Peaches</text>
<text class="c" x="430.5" y="302">A5</text><text class="c" x="449.3" y="302">Benedict</text>
<text class="c" x="430.5" y="311.9">A5</text><text class="c" x="449.3" y="311.9">Conspiracy</text>
<text class="c" x="430.5" y="321.8">A5</text><text class="c" x="449.3" y="321.8">Cuco</text>
<text class="c" x="430.5" y="331.8">A5</text><text class="c" x="449.3" y="331.8">Jabiru</text>
<text class="c" x="430.5" y="341.7">A5</text><text class="c" x="449.3" y="341.7">Swirley</text>
<text class="c" x="430.5" y="351.7">A6</text><text class="c" x="449.3" y="351.7">Gladiator</text>
<text class="c" x="430.5" y="361.6">A7</text><text class="c" x="449.3" y="361.6">Timshel</text>
<text class="c" x="430.5" y="371.5">A8</text><text class="c" x="449.3" y="371.5">Expelliarmus</text>
<text class="c" x="430.5" y="381.5">A9</text><text class="c" x="449.3" y="381.5">Alma</text>
<text class="c" x="430.5" y="391.4">A10</text><text class="c" x="449.3" y="391.4">Goose</text>
<text class="c" x="430.5" y="401.4">A10</text><text class="c" x="449.3" y="401.4">Trike</text>
<text class="c" x="430.5" y="411.3">A11</text><text class="c" x="449.3" y="411.3">Mulciber</text>
<text class="c" x="430.5" y="421.2">A14</text><text class="c" x="449.3" y="421.2">Luchador</text>
<text class="c" x="430.5" y="431.2">B1</text><text class="c b" x="449.3" y="431.2">Chah</text>
<text class="c" x="430.5" y="441.1">B1</text><text class="c b" x="449.3" y="441.1">Badfish</text>
<text class="c" x="430.5" y="451.1">B2</text><text class="c b" x="449.3" y="451.1">Hedgerow</text>
<text class="c" x="430.5" y="461">B2</text><text class="c b" x="449.3" y="461">Rosebush</text>
<text class="c" x="430.5" y="470.9">B3</text><text class="c b" x="449.3" y="470.9">Heathcliff</text>
<text class="c" x="430.5" y="480.9">B4</text><text class="c b" x="449.3" y="480.9">Nigel</text>
<text class="c" x="430.5" y="490.8">B5</text><text class="c b" x="449.3" y="490.8">Acadian</text>
<text class="c" x="430.5" y="500.8">C1</text><text class="c b" x="449.3" y="500.8">Alice</text>
<text class="c" x="430.5" y="510.7">C1</text><text class="c b" x="449.3" y="510.7">Bxz1</text>
<text class="c" x="430.5" y="520.6">C2</text><text class="c b" x="449.3" y="520.6">Myrna</text>
<text class="c" x="430.5" y="530.6">D1</text><text class="c b" x="449.3" y="530.6">Troll4</text>
<text class="c" x="430.5" y="540.5">D2</text><text class="c b" x="449.3" y="540.5">Hawkeye</text>
<text class="c" x="430.5" y="550.5">E</text><text class="c" x="449.3" y="550.5">244</text>
<text class="c" x="430.5" y="560.4">F1</text><text class="c" x="449.3" y="560.4">Che8</text>
<text class="c" x="430.5" y="570.3">F1</text><text class="c" x="449.3" y="570.3">Fruitloop</text>
<text class="c" x="430.5" y="580.3">F1</text><text class="c" x="449.3" y="580.3">Tweety</text>
<text class="c" x="430.5" y="590.2">F1</text><text class="c" x="449.3" y="590.2">DeadP</text>
<text class="c" x="430.5" y="600.2">F2</text><text class="c" x="449.3" y="600.2">Che9d</text>
<text class="c" x="430.5" y="610.1">F3</text><text class="c" x="449.3" y="610.1">Squirty</text>
<text class="c" x="430.5" y="620">F4</text><text class="c" x="449.3" y="620">TChen</text>
<text class="c" x="430.5" y="630">G1</text><text class="c" x="449.3" y="630">BPs</text>
<text class="c" x="430.5" y="639.9">G3</text><text class="c" x="449.3" y="639.9">MOOREtheMARYer</text>
<text class="c" x="430.5" y="649.9">H1</text><text class="c b" x="449.3" y="649.9">Konstantine</text>
<text class="c" x="430.5" y="659.8">I1</text><text class="c" x="449.3" y="659.8">Babsiella</text>
<text class="c" x="430.5" y="669.7">I1</text><text class="c" x="449.3" y="669.7">Brujita</text>
<text class="c" x="430.5" y="679.7">I1</text><text class="c" x="449.3" y="679.7">Island3</text>
<text class="c" x="430.5" y="689.6">I2</text><text class="c" x="449.3" y="689.6">Che9c</text>
<text class="c" x="430.5" y="699.6">I2</text><text class="c" x="449.3" y="699.6">Sbash</text>
<text class="c" x="430.5" y="709.5">J</text><text class="c" x="449.3" y="709.5">Courthouse</text>
<text class="c" x="430.5" y="719.4">J</text><text class="c" x="449.3" y="719.4">Baka</text>
<text class="c" x="430.5" y="729.4">J</text><text class="c" x="449.3" y="729.4">Omega</text>
<text class="c" x="430.5" y="739.3">K1</text><text class="c" x="449.3" y="739.3">Adephagia</text>
<text class="c" x="430.5" y="749.3">K2</text><text class="c" x="449.3" y="749.3">TM4</text>
<text class="c" x="430.5" y="759.2">K2</text><text class="c" x="449.3" y="759.2">Mufasa</text>
<text class="c" x="430.5" y="769.1">K3</text><text class="c" x="449.3" y="769.1">Pixie</text>
<text class="c" x="430.5" y="779.1">K3</text><text class="c" x="449.3" y="779.1">ShedlockHolmes</text>
<text class="c" x="430.5" y="789">K4</text><text class="c" x="449.3" y="789">Cheetobro</text>
<text class="c" x="430.5" y="799">K4</text><text class="c" x="449.3" y="799">Fionbharth</text>
<text class="c" x="430.5" y="808.9">K5</text><text class="c" x="449.3" y="808.9">Kratio</text>
<text class="c" x="430.5" y="818.8">L1</text><text class="c" x="449.3" y="818.8">LeBron</text>
<text class="c" x="430.5" y="828.8">L2</text><text class="c" x="449.3" y="828.8">Crossroads</text>
<text class="c" x="430.5" y="838.7">L3</text><text class="c" x="449.3" y="838.7">Whirlwind</text>
<text class="c" x="430.5" y="848.7">M1</text><text class="c b" x="449.3" y="848.7">PegLeg</text>
<text class="c" x="430.5" y="858.6">M2</text><text class="c b" x="449.3" y="858.6">Rey</text>
<text class="c" x="430.5" y="868.5">O</text><text class="c b" x="449.3" y="868.5">Corndog</text>
<text class="c" x="430.5" y="878.5">O</text><text class="c b" x="449.3" y="878.5">Dylan</text>
<text class="c" x="430.5" y="888.4">P</text><text class="c" x="449.3" y="888.4">Fishburne</text>
<text class="c" x="430.5" y="898.4">P</text><text class="c" x="449.3" y="898.4">Jebeks</text>
<text class="c" x="430.5" y="908.3">P</text><text class="c" x="449.3" y="908.3">Phayonce</text>
<text class="c" x="430.5" y="918.2">Q</text><text class="c" x="449.3" y="918.2">Giles</text>
<text class="c" x="430.5" y="928.2">R</text><text class="c b" x="449.3" y="928.2">Papyrus</text>
<text class="c" x="430.5" y="938.1">T</text><text class="c" x="449.3" y="938.1">Mendokysei</text>
<text class="c" x="430.5" y="948.1">U</text><text class="c b" x="449.3" y="948.1">Patience</text>
<text class="c" x="430.5" y="958">V</text><text class="c b" x="449.3" y="958">Wildcat</text>
<text class="c" x="430.5" y="967.9">X</text><text class="c" x="449.3" y="967.9">Gaia</text>
</g>
<g id="legend">
<rect class="R" x="591.7" y="983.3" width="13" height="8.7"/><rect class="Q" x="604.6" y="983.3" width="13" height="8.7"/><rect x="617.5" y="983.3" width="13" height="8.7" fill="#a2552e"/><rect x="630.4" y="983.3" width="13" height="8.7" fill="#7a7a45"/><rect class="E" x="643.3" y="983.3" width="13" height="8.7"/>
<text x="589.5" y="981.5" style="font-size:11px;fill:#222">≤-4</text><text x="645.7" y="981.5" style="font-size:11px;fill:#222">0</text>
</g>
</g>
</svg>
